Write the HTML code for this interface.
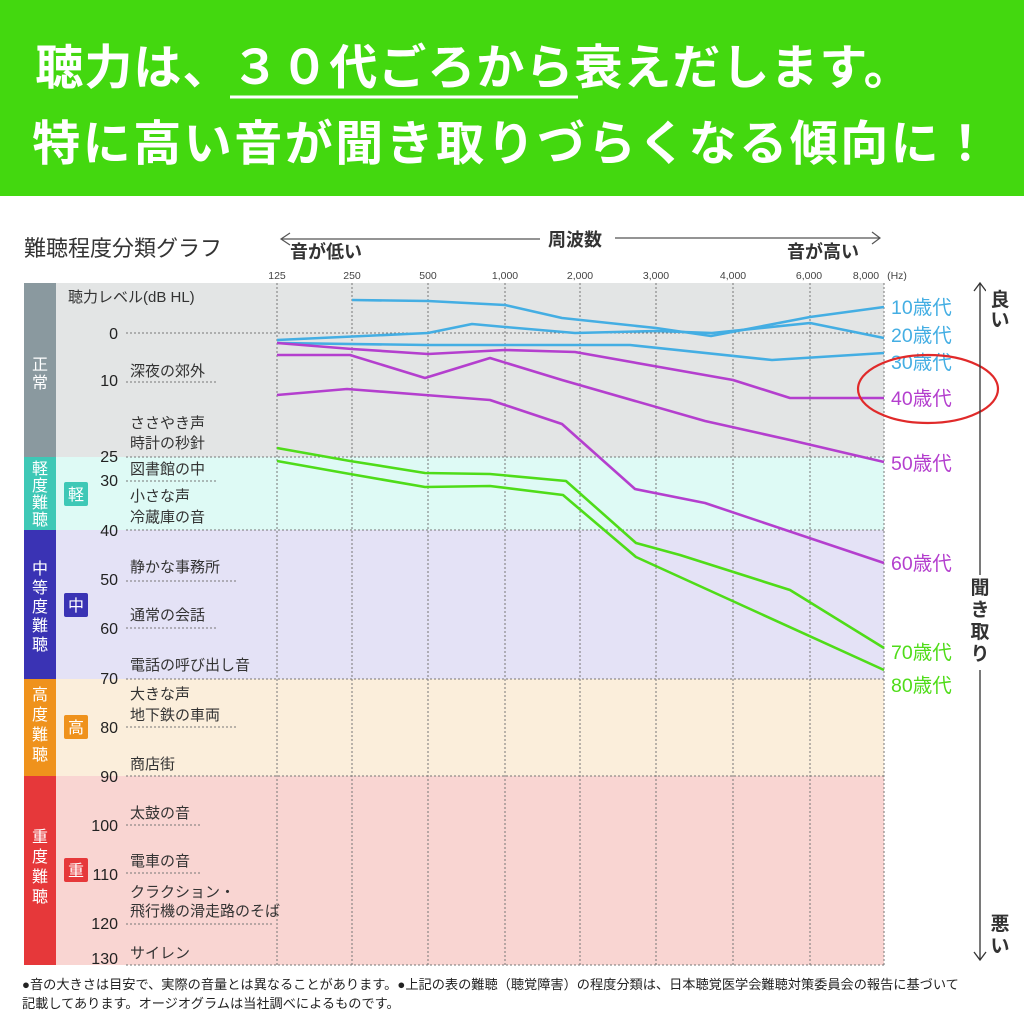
<!DOCTYPE html>
<html><head><meta charset="utf-8"><style>
body{margin:0;width:1024px;height:1024px;overflow:hidden;background:#fff;font-family:"Liberation Sans","Noto Sans CJK JP",sans-serif}
svg text{font-family:"Liberation Sans","Noto Sans CJK JP",sans-serif}
</style></head><body>
<svg width="1024" height="1024" viewBox="0 0 1024 1024" xmlns="http://www.w3.org/2000/svg">
<rect x="0" y="0" width="1024" height="196" fill="#43d80f"/>
<text x="474" y="84" font-size="48" font-weight="bold" fill="#fff" text-anchor="middle" letter-spacing="1">聴力は、３０代ごろから衰えだします。</text>
<line x1="230" y1="97" x2="578" y2="97" stroke="#fff" stroke-width="3"/>
<text x="512" y="160" font-size="48" font-weight="bold" fill="#fff" text-anchor="middle" letter-spacing="2.5">特に高い音が聞き取りづらくなる傾向に！</text>

<text x="24" y="256" font-size="22" fill="#333">難聴程度分類グラフ</text>
<line x1="282" y1="239" x2="540" y2="239" stroke="#555" stroke-width="1.2"/>
<polyline points="290,233 281,239 290,245" fill="none" stroke="#555" stroke-width="1.2"/>
<text x="575" y="246" font-size="18" font-weight="bold" fill="#333" text-anchor="middle">周波数</text>
<line x1="615" y1="238" x2="880" y2="238" stroke="#555" stroke-width="1.2"/>
<polyline points="872,232 880,238 872,244" fill="none" stroke="#555" stroke-width="1.2"/>
<text x="290" y="258" font-size="18" font-weight="bold" fill="#333">音が低い</text>
<text x="787" y="258" font-size="18" font-weight="bold" fill="#333">音が高い</text>
<g font-size="10.5" fill="#444" text-anchor="middle">
<text x="277" y="279">125</text><text x="352" y="279">250</text><text x="428" y="279">500</text><text x="505" y="279">1,000</text><text x="580" y="279">2,000</text><text x="656" y="279">3,000</text><text x="733" y="279">4,000</text><text x="809" y="279">6,000</text><text x="866" y="279">8,000</text><text x="897" y="279">(Hz)</text>
</g>

<rect x="56" y="283" width="828" height="174" fill="#e3e5e5"/>
<rect x="56" y="457" width="828" height="73" fill="#defaf5"/>
<rect x="56" y="530" width="828" height="149" fill="#e4e2f6"/>
<rect x="56" y="679" width="828" height="97" fill="#fbeedb"/>
<rect x="56" y="776" width="828" height="189" fill="#f9d5d2"/>
<rect x="24" y="283" width="32" height="174" fill="#8a999f"/>
<rect x="24" y="457" width="32" height="73" fill="#3ec8b6"/>
<rect x="24" y="530" width="32" height="149" fill="#3a33b4"/>
<rect x="24" y="679" width="32" height="97" fill="#ef921c"/>
<rect x="24" y="776" width="32" height="189" fill="#e6383a"/>
<g fill="#fff" font-size="16" text-anchor="middle">
<text x="40" y="370">正</text><text x="40" y="388">常</text>
<text x="40" y="474">軽</text><text x="40" y="491">度</text><text x="40" y="508">難</text><text x="40" y="525">聴</text>
<text x="40" y="574">中</text><text x="40" y="593">等</text><text x="40" y="612">度</text><text x="40" y="631">難</text><text x="40" y="650">聴</text>
<text x="40" y="700">高</text><text x="40" y="720">度</text><text x="40" y="740">難</text><text x="40" y="760">聴</text>
<text x="40" y="842">重</text><text x="40" y="862">度</text><text x="40" y="882">難</text><text x="40" y="902">聴</text>
</g>
<rect x="64" y="482" width="24" height="24" rx="2" fill="#3ec8b6"/><text x="76" y="500" fill="#fff" font-size="16" text-anchor="middle">軽</text>
<rect x="64" y="593" width="24" height="24" rx="2" fill="#3a33b4"/><text x="76" y="611" fill="#fff" font-size="16" text-anchor="middle">中</text>
<rect x="64" y="715" width="24" height="24" rx="2" fill="#ef921c"/><text x="76" y="733" fill="#fff" font-size="16" text-anchor="middle">高</text>
<rect x="64" y="858" width="24" height="24" rx="2" fill="#e6383a"/><text x="76" y="876" fill="#fff" font-size="16" text-anchor="middle">重</text>

<g stroke="#777" stroke-width="1" stroke-dasharray="2,2" fill="none">
<line x1="277" y1="283" x2="277" y2="965"/><line x1="352" y1="283" x2="352" y2="965"/><line x1="428" y1="283" x2="428" y2="965"/><line x1="505" y1="283" x2="505" y2="965"/><line x1="580" y1="283" x2="580" y2="965"/><line x1="656" y1="283" x2="656" y2="965"/><line x1="733" y1="283" x2="733" y2="965"/><line x1="810" y1="283" x2="810" y2="965"/><line x1="884" y1="283" x2="884" y2="965"/>
<line x1="126" y1="333" x2="884" y2="333"/><line x1="126" y1="457" x2="884" y2="457"/><line x1="126" y1="530" x2="884" y2="530"/><line x1="126" y1="679" x2="884" y2="679"/><line x1="126" y1="776" x2="884" y2="776"/><line x1="126" y1="965" x2="884" y2="965"/>
<line x1="126" y1="382" x2="218" y2="382"/><line x1="126" y1="481" x2="218" y2="481"/><line x1="126" y1="581" x2="236" y2="581"/><line x1="126" y1="628" x2="218" y2="628"/><line x1="126" y1="727" x2="238" y2="727"/><line x1="126" y1="825" x2="200" y2="825"/><line x1="126" y1="873" x2="200" y2="873"/><line x1="126" y1="924" x2="272" y2="924"/>
</g>
<g font-size="16" fill="#222" text-anchor="end">
<text x="118" y="339">0</text><text x="118" y="386">10</text><text x="118" y="462">25</text><text x="118" y="486">30</text><text x="118" y="536">40</text><text x="118" y="585">50</text><text x="118" y="634">60</text><text x="118" y="684">70</text><text x="118" y="733">80</text><text x="118" y="782">90</text><text x="118" y="831">100</text><text x="118" y="880">110</text><text x="118" y="929">120</text><text x="118" y="964">130</text>
</g>
<g font-size="15" fill="#333">
<text x="68" y="302">聴力レベル(dB HL)</text>
<text x="130" y="376">深夜の郊外</text>
<text x="130" y="428">ささやき声</text><text x="130" y="448">時計の秒針</text>
<text x="130" y="474">図書館の中</text>
<text x="130" y="501">小さな声</text><text x="130" y="522">冷蔵庫の音</text>
<text x="130" y="572">静かな事務所</text>
<text x="130" y="620">通常の会話</text>
<text x="130" y="670">電話の呼び出し音</text>
<text x="130" y="699">大きな声</text><text x="130" y="720">地下鉄の車両</text>
<text x="130" y="769">商店街</text>
<text x="130" y="818">太鼓の音</text>
<text x="130" y="866">電車の音</text>
<text x="130" y="897">クラクション・</text><text x="130" y="916">飛行機の滑走路のそば</text>
<text x="130" y="958">サイレン</text>
</g>

<g fill="none" stroke-width="2.6" stroke-linejoin="round">
<polyline stroke="#44aee3" points="352,300 428,301 505,305 562,318 656,328 711,336 810,317 884,307"/>
<polyline stroke="#44aee3" points="277,340 428,333 472,324 505,327 575,333 656,331 712,333 810,323 884,338"/>
<polyline stroke="#44aee3" points="277,343 428,345 630,345 772,360 884,353"/>
<polyline stroke="#b43fce" points="277,343 352,349 428,354 505,350 575,352 733,380 790,398 884,398"/>
<polyline stroke="#b43fce" points="277,355 350,355 425,378 490,358 562,380 705,421 790,440 884,462"/>
<polyline stroke="#b43fce" points="277,395 347,389 425,395 490,400 562,424 635,489 705,503 884,563"/>
<polyline stroke="#4fdc19" points="277,448 350,461 425,473 490,474 566,481 636,543 680,555 790,590 884,648"/>
<polyline stroke="#4fdc19" points="277,461 350,474 425,487 490,486 563,495 636,557 884,670"/>
</g>
<g font-size="19.5">
<text x="891" y="314" fill="#44aee3">10歳代</text>
<text x="891" y="342" fill="#44aee3">20歳代</text>
<text x="891" y="369" fill="#44aee3">30歳代</text>
<text x="891" y="405" fill="#b43fce">40歳代</text>
<text x="891" y="470" fill="#b43fce">50歳代</text>
<text x="891" y="570" fill="#b43fce">60歳代</text>
<text x="891" y="659" fill="#4fdc19">70歳代</text>
<text x="891" y="692" fill="#4fdc19">80歳代</text>
</g>
<ellipse cx="928" cy="389" rx="70" ry="34" fill="none" stroke="#e02a2a" stroke-width="2.2"/>
<line x1="980" y1="283" x2="980" y2="960" stroke="#333" stroke-width="1.3"/>
<polyline points="974,291 980,283 986,291" fill="none" stroke="#333" stroke-width="1.3"/>
<polyline points="974,952 980,960 986,952" fill="none" stroke="#333" stroke-width="1.3"/>
<rect x="986" y="285" width="34" height="48" fill="#fff"/>
<text x="1000" y="306" font-size="19" font-weight="bold" fill="#333" text-anchor="middle">良</text>
<text x="1000" y="326" font-size="19" font-weight="bold" fill="#333" text-anchor="middle">い</text>
<rect x="968" y="575" width="26" height="95" fill="#fff"/>
<g font-size="19" font-weight="bold" fill="#333" text-anchor="middle">
<text x="980" y="594">聞</text><text x="980" y="616">き</text><text x="980" y="638">取</text><text x="980" y="660">り</text>
<text x="1000" y="930">悪</text><text x="1000" y="952">い</text>
</g>
<g font-size="13.2" fill="#222">
<text x="22" y="989">●音の大きさは目安で、実際の音量とは異なることがあります。●上記の表の難聴（聴覚障害）の程度分類は、日本聴覚医学会難聴対策委員会の報告に基づいて</text>
<text x="22" y="1008">記載してあります。オージオグラムは当社調べによるものです。</text>
</g>
</svg>
</body></html>
